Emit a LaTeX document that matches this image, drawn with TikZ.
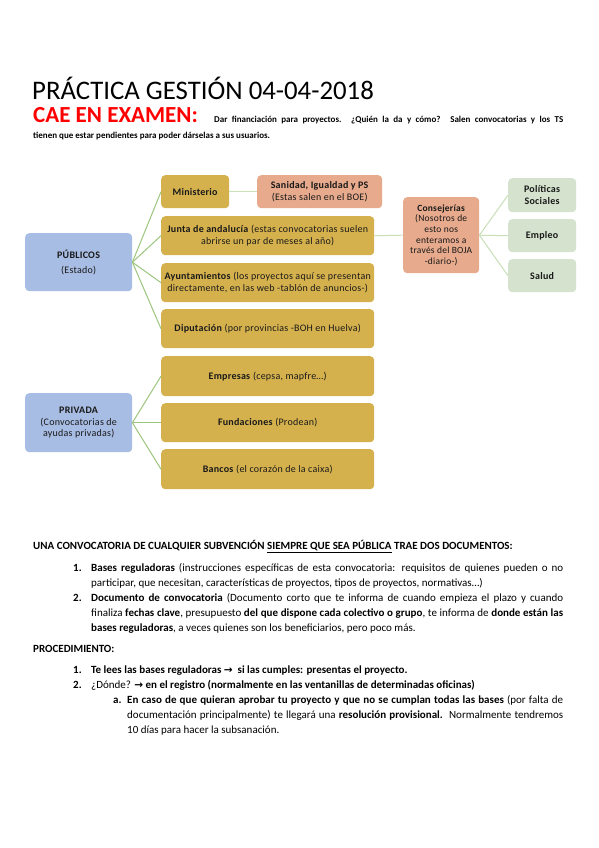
\documentclass[tikz,border=0pt]{standalone}
\usepackage{fontspec}
\setmainfont{Carlito}
\newfontfamily\arrowfont{DejaVu Sans}
\newfontfamily\boxfamily[LetterSpace=2.5]{Carlito}
\newcommand{\myarr}{{\arrowfont\bfseries\fontsize{10.5}{12}\selectfont →}}
\definecolor{pubblue}{HTML}{A8BDE4}
\definecolor{gold}{HTML}{D5B14E}
\definecolor{salmon}{HTML}{E7AA8C}
\definecolor{lgreen}{HTML}{D5E3CE}
\definecolor{conn}{HTML}{9CC57E}
\definecolor{connl}{HTML}{C8DFB8}
\definecolor{caered}{HTML}{FF0000}
\begin{document}
\begin{tikzpicture}[x=1pt,y=-1pt,
  box/.style={rounded corners=4pt, inner sep=1pt, align=center, anchor=north west,
    font=\boxfamily\fontsize{10}{12.5}\selectfont, text=black!90},
  goldbox/.style={box, fill=gold},
  bluebox/.style={box, fill=pubblue},
  salbox/.style={box, fill=salmon},
  greenbox/.style={box, fill=lgreen},
  link/.style={draw=conn, line width=1pt},
  linkl/.style={draw=connl, line width=1pt},
  txt/.style={anchor=base west, inner sep=0pt, font=\fontsize{11}{13}\selectfont},
]
\useasboundingbox[fill=white] (0,0) rectangle (599,848);

% Header
\node[anchor=base west, inner sep=0pt, font=\fontsize{26.8}{30}\selectfont] (title) at (32,100) {PRÁCTICA GESTIÓN 04-04-2018};
\node[anchor=base west, inner sep=0pt, font=\fontsize{23}{25}\selectfont\bfseries, text=caered] (cae) at (33,122) {CAE EN EXAMEN:};
\node[anchor=base west, inner sep=0pt, font=\fontsize{9}{11}\selectfont\bfseries] (intro1) at (214,122) {\makebox[349pt][s]{Dar financiación para proyectos. ¿Quién la da y cómo? Salen convocatorias y los TS}};
\node[anchor=base west, inner sep=0pt, font=\fontsize{9}{11}\selectfont\bfseries] (intro2) at (33,139) {tienen que estar pendientes para poder dárselas a sus usuarios.};

% Diagram: public
\node[bluebox, minimum width=107pt, minimum height=58pt, font=\boxfamily\fontsize{10}{15}\selectfont] (pub) at (25,233) {\textbf{PÚBLICOS}\\(Estado)};
\node[goldbox, minimum width=68pt, minimum height=33pt] (min) at (161,175) {\textbf{Ministerio}};
\node[salbox, minimum width=125pt, minimum height=33pt] (san) at (257,175) {\textbf{Sanidad, Igualdad y PS}\\(Estas salen en el BOE)};
\node[goldbox, minimum width=213pt, minimum height=39pt] (jun) at (161,216) {\textbf{Junta de andalucía} (estas convocatorias suelen\\abrirse un par de meses al año)};
\node[goldbox, minimum width=213pt, minimum height=39pt] (ayu) at (161,263) {\textbf{Ayuntamientos} (los proyectos aquí se presentan\\directamente, en las web -tablón de anuncios-)};
\node[goldbox, minimum width=213pt, minimum height=39pt] (dip) at (161,309) {\textbf{Diputación} (por provincias -BOH en Huelva)};
\node[salbox, minimum width=76pt, minimum height=76pt, font=\boxfamily\fontsize{9.5}{10.6}\selectfont] (con) at (403,197) {\textbf{Consejerías}\\(Nosotros de\\esto nos\\enteramos a\\través del BOJA\\-diario-)};
\node[greenbox, minimum width=68pt, minimum height=34pt] (pol) at (508,178) {\textbf{Políticas}\\\textbf{Sociales}};
\node[greenbox, minimum width=68pt, minimum height=33pt] (emp) at (508,219) {\textbf{Empleo}};
\node[greenbox, minimum width=68pt, minimum height=33pt] (sal) at (508,259) {\textbf{Salud}};

\draw[link] (pub.east) -- (min.west);
\draw[link] (pub.east) -- (jun.west);
\draw[link] (pub.east) -- (ayu.west);
\draw[link] (pub.east) -- (dip.west);
\draw[linkl] (min.east) -- (san.west);
\draw[linkl] (jun.east) -- (con.west);
\draw[linkl] (con.east) -- (pol.west);
\draw[linkl] (con.east) -- (emp.west);
\draw[linkl] (con.east) -- (sal.west);

% Diagram: private
\node[bluebox, minimum width=107pt, minimum height=59pt, font=\boxfamily\fontsize{10}{11.5}\selectfont] (pri) at (25,393) {\textbf{PRIVADA}\\(Convocatorias de\\ayudas privadas)};
\node[goldbox, minimum width=213pt, minimum height=40pt] (ems) at (161,356) {\textbf{Empresas} (cepsa, mapfre…)};
\node[goldbox, minimum width=213pt, minimum height=39pt] (fun) at (161,403) {\textbf{Fundaciones} (Prodean)};
\node[goldbox, minimum width=213pt, minimum height=40pt] (ban) at (161,449) {\textbf{Bancos} (el corazón de la caixa)};
\draw[link] (pri.east) -- (ems.west);
\draw[link] (pri.east) -- (fun.west);
\draw[link] (pri.east) -- (ban.west);

% Body text
\node[txt] (l0) at (33,549) {\textbf{UNA CONVOCATORIA DE CUALQUIER SUBVENCIÓN \underline{SIEMPRE QUE SEA PÚBLICA} TRAE DOS DOCUMENTOS:}};
\node[txt] (n1) at (73,571) {\textbf{1.}};
\node[txt] (l1a) at (91,571) {\makebox[472pt][s]{\textbf{Bases reguladoras} (instrucciones específicas de esta convocatoria: requisitos de quienes pueden o no}};
\node[txt] (l1b) at (91,586) {participar, que necesitan, características de proyectos, tipos de proyectos, normativas…)};
\node[txt] (n2) at (73,601) {\textbf{2.}};
\node[txt] (l2a) at (91,601) {\makebox[472pt][s]{\textbf{Documento de convocatoria} (Documento corto que te informa de cuando empieza el plazo y cuando}};
\node[txt] (l2b) at (91,616) {\makebox[472pt][s]{finaliza \textbf{fechas clave}, presupuesto \textbf{del que dispone cada colectivo o grupo}, te informa de \textbf{donde están las}}};
\node[txt] (l2c) at (91,631) {\textbf{bases reguladoras}, a veces quienes son los beneficiarios, pero poco más.};

\node[txt] (proc) at (33,652) {\textbf{PROCEDIMIENTO:}};
\node[txt] (m1) at (73,673) {\textbf{1.}};
\node[txt] (p1) at (91,673) {\textbf{Te lees las bases reguladoras \myarr\ \ si las cumples: presentas el proyecto.}};
\node[txt] (m2) at (73,688) {\textbf{2.}};
\node[txt] (p2) at (91,688) {¿Dónde? \myarr\ \textbf{en el registro (normalmente en las ventanillas de determinadas oficinas)}};
\node[txt] (ma) at (113,703) {\textbf{a.}};
\node[txt] (pa1) at (127,703) {\makebox[436pt][s]{\textbf{En caso de que quieran aprobar tu proyecto y que no se cumplan todas las bases} (por falta de}};
\node[txt] (pa2) at (127,718) {\makebox[436pt][s]{documentación principalmente) te llegará una \textbf{resolución provisional.}\ \ Normalmente tendremos}};
\node[txt] (pa3) at (127,733) {10 días para hacer la subsanación.};
\end{tikzpicture}
\end{document}
